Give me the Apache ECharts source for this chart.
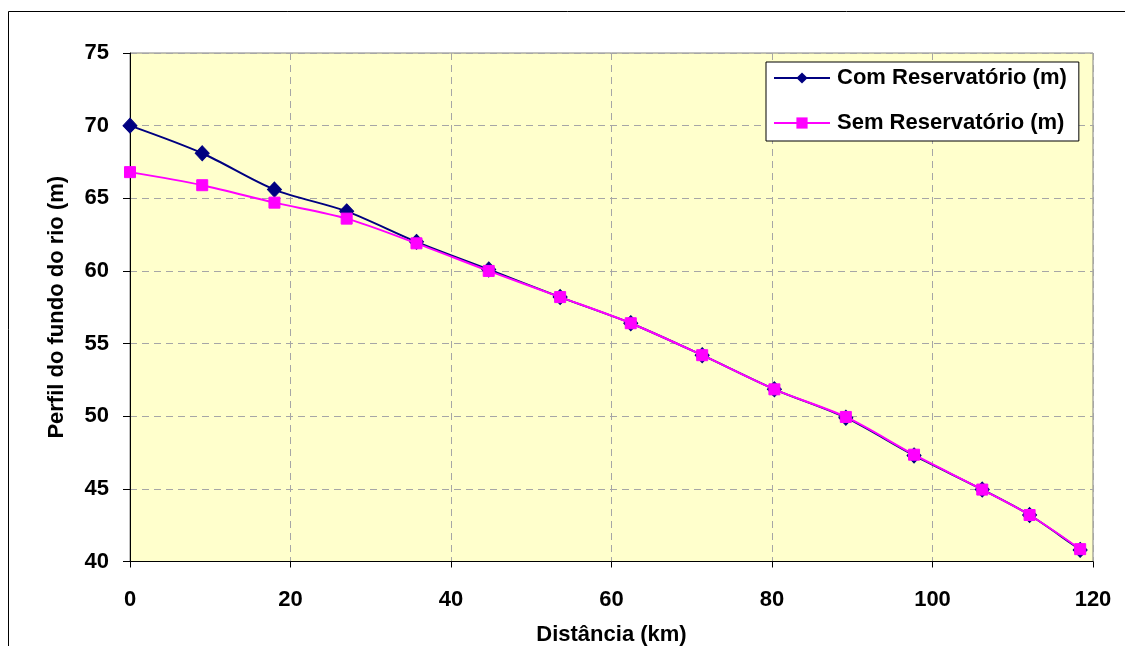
<!DOCTYPE html>
<html>
<head>
<meta charset="utf-8">
<script src="https://cdn.jsdelivr.net/npm/echarts@6/dist/echarts.min.js"></script>
<style>
html,body{margin:0;padding:0;background:#fff;}
#c{width:1125px;height:646px;}
</style>
</head>
<body>
<div id="c"></div>
<script>
const distancia = [0, 9, 18, 27, 35.7, 44.7, 53.6, 62.4, 71.3, 80.3, 89.2, 97.7, 106.2, 112.1, 118.4];
const comReservatorio = [70.0, 68.1, 65.6, 64.1, 62.0, 60.1, 58.2, 56.4, 54.2, 51.85, 49.9, 47.3, 44.95, 43.2, 40.8];
const semReservatorio = [66.8, 65.9, 64.7, 63.6, 61.9, 60.0, 58.2, 56.4, 54.2, 51.85, 49.95, 47.35, 44.95, 43.2, 40.85];
const seriesNames = ['Com Reservatório (m)', 'Sem Reservatório (m)'];
const xTitle = 'Distância (km)';
const yTitle = 'Perfil do fundo do rio (m)';

const pairs = (xs, ys) => xs.map((x, i) => [x, ys[i]]);
const font = 'Liberation Sans, Arial, sans-serif';

const chart = echarts.init(document.getElementById('c'), null, {renderer: 'canvas'});
chart.setOption({
  animation: false,
  backgroundColor: '#ffffff',
  graphic: [{
    type: 'rect', z: -10, silent: true,
    shape: {x: 8.5, y: 11.5, width: 1300, height: 800},
    style: {fill: 'none', stroke: '#000', lineWidth: 1}
  }],
  grid: {
    left: 130, top: 53, right: 32, bottom: 84.5,
    outerBoundsMode: 'none',
    containLabel: false,
    show: true, backgroundColor: '#ffffcc', borderColor: '#808080', borderWidth: 1
  },
  legend: {
    orient: 'vertical',
    left: 766, top: 62,
    backgroundColor: '#ffffff',
    borderColor: '#000', borderWidth: 1,
    padding: [5, 12, 7, 7],
    itemGap: 23,
    itemWidth: 56, itemHeight: 14,
    textStyle: {fontFamily: font, fontWeight: 'bold', fontSize: 22, color: '#000', padding: [0, 0, 0, 2]},
    data: seriesNames
  },
  xAxis: {
    type: 'value', min: 0, max: 120, interval: 20,
    name: xTitle, nameLocation: 'middle', nameGap: 62,
    nameTextStyle: {fontFamily: font, fontWeight: 'bold', fontSize: 22, color: '#000'},
    axisLine: {show: true, lineStyle: {color: '#000', width: 1}},
    axisTick: {show: true, inside: false, length: 6, lineStyle: {color: '#000'}},
    axisLabel: {fontFamily: font, fontWeight: 'bold', fontSize: 22, color: '#000', margin: 27},
    splitLine: {show: true, lineStyle: {color: '#a6a6a6', type: [7, 5], width: 1}}
  },
  yAxis: {
    type: 'value', min: 40, max: 75, interval: 5,
    name: yTitle, nameLocation: 'middle', nameGap: 62, nameRotate: 90,
    nameTextStyle: {fontFamily: font, fontWeight: 'bold', fontSize: 22, color: '#000'},
    axisLine: {show: true, lineStyle: {color: '#000', width: 1}},
    axisTick: {show: true, inside: false, length: 7, lineStyle: {color: '#000'}},
    axisLabel: {fontFamily: font, fontWeight: 'bold', fontSize: 22, color: '#000', margin: 21},
    splitLine: {show: true, lineStyle: {color: '#a6a6a6', type: [7, 5], width: 1}}
  },
  series: [
    {
      name: seriesNames[0], type: 'line', smooth: 0.3,
      data: pairs(distancia, comReservatorio),
      symbol: 'diamond', symbolSize: [14, 15],
      lineStyle: {color: '#000080', width: 2},
      itemStyle: {color: '#000080', borderColor: '#000080'},
      z: 2
    },
    {
      name: seriesNames[1], type: 'line', smooth: 0.3,
      data: pairs(distancia, semReservatorio),
      symbol: 'rect', symbolSize: 11,
      lineStyle: {color: '#ff00ff', width: 2},
      itemStyle: {color: '#ff00ff', borderColor: '#ff00ff'},
      z: 3
    }
  ]
});
</script>
</body>
</html>
